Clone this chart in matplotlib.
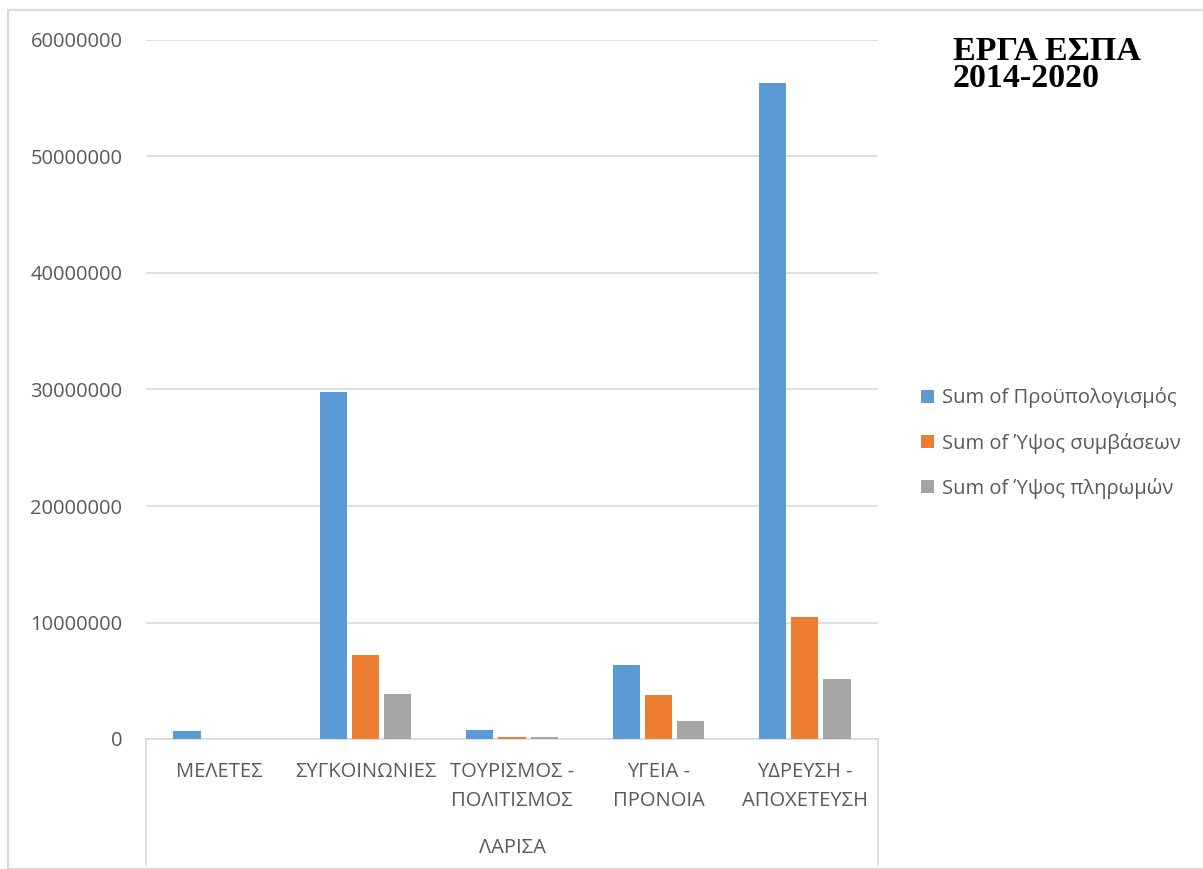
import numpy as np
import matplotlib.pyplot as plt
from matplotlib.patches import Rectangle

categories = ["ΜΕΛΕΤΕΣ", "ΣΥΓΚΟΙΝΩΝΙΕΣ", "ΤΟΥΡΙΣΜΟΣ -\nΠΟΛΙΤΙΣΜΟΣ", "ΥΓΕΙΑ -\nΠΡΟΝΟΙΑ", "ΥΔΡΕΥΣΗ -\nΑΠΟΧΕΤΕΥΣΗ"]
group_label = "ΛΑΡΙΣΑ"
series_names = ["Sum of Προϋπολογισμός", "Sum of Ύψος συμβάσεων", "Sum of Ύψος πληρωμών"]
budget = [700000, 29800000, 770000, 6350000, 56300000]
contracts = [0, 7200000, 150000, 3780000, 10470000]
payments = [0, 3850000, 150000, 1550000, 5150000]
colors = ["#5B9BD5", "#ED7D31", "#A5A5A5"]

plt.rcParams['font.family'] = ['Open Sans', 'DejaVu Sans']

fig = plt.figure(figsize=(12.03, 8.69), dpi=100)
ax = fig.add_axes([146/1203, 1-739/869, (878-146)/1203, (739-40)/869])

# outer chart border
fig.patches.append(Rectangle((8/1203, 0), 1.2, 1-10/869, transform=fig.transFigure,
                             fill=False, edgecolor="#D9D9D9", linewidth=1.5))

x = np.arange(len(categories))
w = 0.185
step = 0.22
for i, (vals, name) in enumerate(zip([budget, contracts, payments], series_names)):
    ax.bar(x + (i-1)*step, vals, width=w, color=colors[i], label=name, zorder=3)

ax.set_xlim(-0.5, len(categories)-0.5)
ax.set_ylim(0, 60000000)
ax.set_yticks(np.arange(0, 60000001, 10000000))
ax.set_yticklabels([str(v) for v in range(0, 60000001, 10000000)])
ax.yaxis.grid(True, color="#D9D9D9", linewidth=1.2, zorder=0)
for s in ["top", "right", "left"]:
    ax.spines[s].set_visible(False)
ax.spines["bottom"].set_color("#D9D9D9")
ax.spines["bottom"].set_linewidth(1.2)
ax.tick_params(axis="y", length=0, labelsize=14.5, labelcolor="#595959", pad=17)
ax.set_xticks([])

# category labels and the group level
for xi, cat in zip(x, categories):
    ax.text(xi, -0.033, cat, transform=ax.get_xaxis_transform(), ha="center", va="top",
            fontsize=14.5, color="#595959", linespacing=1.6)
ax.text(len(categories)/2 - 0.5, -0.141, group_label, transform=ax.get_xaxis_transform(),
        ha="center", va="top", fontsize=14.5, color="#595959")
for xe in [-0.5, len(categories)-0.5]:
    ax.plot([xe, xe], [0, -0.18], transform=ax.get_xaxis_transform(), color="#D9D9D9",
            linewidth=1.2, clip_on=False)

fig.text(953/1203, 1-36/869, "ΕΡΓΑ ΕΣΠΑ\n2014-2020", family="Liberation Serif",
         fontweight="bold", fontsize=24.5, va="top", ha="left", linespacing=0.82)

leg = fig.legend(loc="center left", bbox_to_anchor=(903/1203, 1-443/869), frameon=False,
                 fontsize=14.5, handlelength=0.65, handleheight=0.65, handletextpad=0.4,
                 labelspacing=1.2)
for t in leg.get_texts():
    t.set_color("#595959")

fig.savefig("out.png", dpi=100)
